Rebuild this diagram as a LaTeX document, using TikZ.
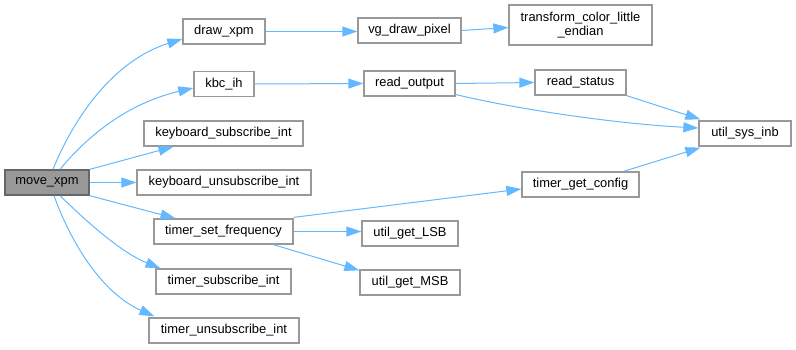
\documentclass[tikz,border=0pt]{standalone}
\usepackage{fontspec}
\setmainfont{Liberation Sans}
\usetikzlibrary{arrows.meta}
\definecolor{edgeblue}{HTML}{63B8FF}
\definecolor{boxline}{HTML}{999999}
\definecolor{rootfill}{HTML}{999999}
\definecolor{rootline}{HTML}{666666}
\begin{document}
\begin{tikzpicture}[x=1pt,y=-1pt,
  fn/.style={draw=boxline,line width=1.3pt,fill=white,inner sep=0pt,
    minimum height=25pt,font=\fontsize{12.9}{14.5}\selectfont,align=center},
  root/.style={fn,fill=rootfill,draw=rootline},
  call/.style={draw=edgeblue,line width=1pt,-{Triangle[length=15pt,width=10pt]}}]
\useasboundingbox (0,0) rectangle (796,349);

% functions called, by column
\node[root,minimum width=84pt] (m) at (47,182.5) {move\_xpm};

\node[fn,minimum width=82pt]  (draw)   at (224,31.5)  {draw\_xpm};
\node[fn,minimum width=60pt]  (kbc)    at (224,84)    {kbc\_ih};
\node[fn,minimum width=159pt] (ksub)   at (223.5,133.5) {keyboard\_subscribe\_int};
\node[fn,minimum width=174pt] (kunsub) at (224,182.5) {keyboard\_unsubscribe\_int};
\node[fn,minimum width=139pt] (tsf)    at (223.5,231.5) {timer\_set\_frequency};
\node[fn,minimum width=135pt] (tsub)   at (223.5,281.5) {timer\_subscribe\_int};
\node[fn,minimum width=150pt] (tunsub) at (224,330.5) {timer\_unsubscribe\_int};

\node[fn,minimum width=103pt] (vg)  at (409.5,30.5) {vg\_draw\_pixel};
\node[fn,minimum width=91pt]  (ro)  at (409.5,83.5) {read\_output};
\node[fn,minimum width=96pt]  (lsb) at (410,233.5)  {util\_get\_LSB};
\node[fn,minimum width=100pt] (msb) at (410,282.5)  {util\_get\_MSB};

\node[fn,minimum width=143pt,minimum height=40pt] (tr) at (580.5,25)
  {transform\_color\_little\\\_endian};
\node[fn,minimum width=91pt]  (rs)  at (580.5,82.5) {read\_status};
\node[fn,minimum width=117pt] (tgc) at (580.5,184.5) {timer\_get\_config};

\node[fn,minimum width=92pt] (usi) at (745,133.5) {util\_sys\_inb};

% calls made by move_xpm
\draw[call] ([xshift=6]m.north) .. controls (75,115) and (115,60) .. ([yshift=-7.5]draw.west);
\draw[call] ([xshift=13]m.north) .. controls (80,145) and (120,105) .. ([yshift=-4]kbc.west);
\draw[call] (m.north east) -- ([xshift=-50]ksub.south);
\draw[call] (m.east) -- (kunsub.west);
\draw[call] (m.south east) -- ([xshift=-48]tsf.north);
\draw[call] ([xshift=13]m.south) .. controls (85,220) and (120,252) .. ([xshift=-63]tsub.north);
\draw[call] ([xshift=7]m.south) .. controls (70,240) and (100,292) .. ([xshift=6,yshift=1]tunsub.north west);

% deeper calls
\draw[call] (draw.east) -- (vg.west |- draw.east);
\draw[call] (vg.east) -- ([yshift=-2.5]tr.west);
\draw[call] (kbc.east) -- (ro.west);
\draw[call] (ro.east) -- (rs.west);
\draw[call] ([yshift=-11]ro.east) .. controls (520,110) and (620,124) .. ([yshift=5.5]usi.west);
\draw[call] (rs.south east) -- ([xshift=2,yshift=1]usi.north west);
\draw[call] ([xshift=43]tgc.north) -- ([xshift=2,yshift=-1]usi.south west);
\draw[call] ([yshift=1]tsf.north east) -- ([yshift=-4.5]tgc.west);
\draw[call] (tsf.east) -- (tsf.east -| lsb.west);
\draw[call] ([xshift=50]tsf.south) -- ([yshift=-1]msb.north west);
\end{tikzpicture}
\end{document}
